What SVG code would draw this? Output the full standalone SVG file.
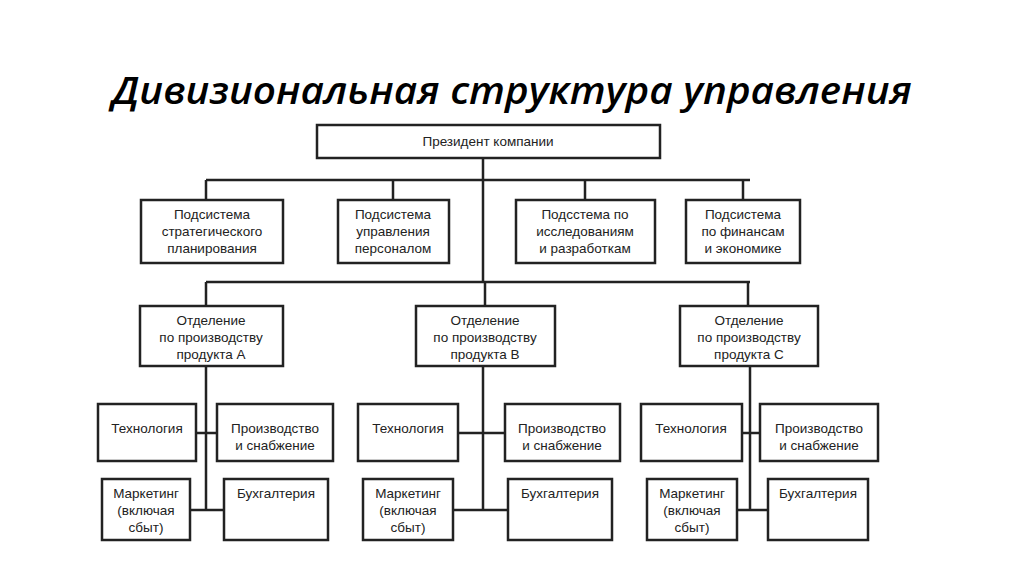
<svg xmlns="http://www.w3.org/2000/svg" width="1024" height="574" viewBox="0 0 1024 574">
<style>
rect{fill:#fff;stroke:#222;stroke-width:2.5}
text{font-family:"Liberation Sans",Arial,sans-serif;font-size:13.5px;fill:#222;text-anchor:middle}
.t{font-family:"Open Sans","Liberation Sans",sans-serif;font-size:38px;font-style:italic;font-weight:600;fill:#000}
#conn path{fill:none;stroke:#222;stroke-width:2.5}
</style>
<rect x="0" y="0" width="1024" height="574" style="stroke:none"/>
<text class="t" x="512" y="104" textLength="800" lengthAdjust="spacingAndGlyphs">Дивизиональная структура управления</text>
<g id="conn">
<path d="M483 158V282M206 180H750M206 180V200M393 180V200M585 180V200M743 180V200M206 282H750M206 282V306M485 282V306M748 282V306"/>
<path d="M206 366V510M196 433H217M190 510H224"/>
<path d="M483 366V510M458 433H505M453 510H508"/>
<path d="M750 366V510M742 433H760M737 510H768"/>
</g>
<g id="president"><rect x="317" y="125" width="343" height="33"/><text x="488" y="146">Президент компании</text></g>
<g id="s1"><rect x="141" y="200" width="142" height="63"/><text x="212" y="219">Подсистема</text><text x="212" y="236">стратегического</text><text x="212" y="253">планирования</text></g>
<g id="s2"><rect x="338" y="200" width="111" height="63"/><text x="393" y="219">Подсистема</text><text x="393" y="236">управления</text><text x="393" y="253">персоналом</text></g>
<g id="s3"><rect x="516" y="200" width="139" height="63"/><text x="585" y="219">Подсстема по</text><text x="585" y="236">исследованиям</text><text x="585" y="253">и разработкам</text></g>
<g id="s4"><rect x="686" y="200" width="114" height="63"/><text x="743" y="219">Подсистема</text><text x="743" y="236">по финансам</text><text x="743" y="253">и экономике</text></g>
<g id="dA"><rect x="140" y="306" width="143" height="60"/><text x="211" y="325">Отделение</text><text x="211" y="342">по производству</text><text x="211" y="359">продукта А</text></g>
<g id="dB"><rect x="416" y="306" width="139" height="60"/><text x="485" y="325">Отделение</text><text x="485" y="342">по производству</text><text x="485" y="359">продукта В</text></g>
<g id="dC"><rect x="680" y="306" width="138" height="60"/><text x="749" y="325">Отделение</text><text x="749" y="342">по производству</text><text x="749" y="359">продукта С</text></g>
<g id="tA"><rect x="98" y="404" width="98" height="57"/><text x="147" y="433">Технология</text></g>
<g id="pA"><rect x="217" y="404" width="116" height="57"/><text x="275" y="433">Производство</text><text x="275" y="450">и снабжение</text></g>
<g id="mA"><rect x="102" y="479" width="88" height="61"/><text x="146" y="498">Маркетинг</text><text x="146" y="515">(включая</text><text x="146" y="532">сбыт)</text></g>
<g id="bA"><rect x="224" y="479" width="104" height="61"/><text x="276" y="498">Бухгалтерия</text></g>
<g id="tB"><rect x="358" y="404" width="100" height="57"/><text x="408" y="433">Технология</text></g>
<g id="pB"><rect x="505" y="404" width="115" height="57"/><text x="562" y="433">Производство</text><text x="562" y="450">и снабжение</text></g>
<g id="mB"><rect x="363" y="479" width="90" height="61"/><text x="408" y="498">Маркетинг</text><text x="408" y="515">(включая</text><text x="408" y="532">сбыт)</text></g>
<g id="bB"><rect x="508" y="479" width="104" height="61"/><text x="560" y="498">Бухгалтерия</text></g>
<g id="tC"><rect x="641" y="404" width="101" height="57"/><text x="691" y="433">Технология</text></g>
<g id="pC"><rect x="760" y="404" width="118" height="57"/><text x="819" y="433">Производство</text><text x="819" y="450">и снабжение</text></g>
<g id="mC"><rect x="647" y="479" width="90" height="61"/><text x="692" y="498">Маркетинг</text><text x="692" y="515">(включая</text><text x="692" y="532">сбыт)</text></g>
<g id="bC"><rect x="768" y="479" width="100" height="61"/><text x="818" y="498">Бухгалтерия</text></g>
</svg>
